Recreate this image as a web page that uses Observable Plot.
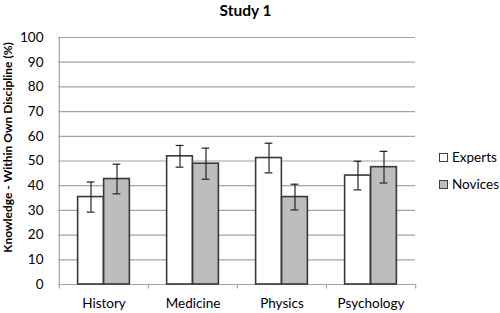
<!DOCTYPE html>
<html>
<head>
<meta charset="utf-8">
<script src="https://cdn.jsdelivr.net/npm/d3@7"></script>
<script src="https://cdn.jsdelivr.net/npm/@observablehq/plot@0.6"></script>
<style>
  body { margin: 0; background: #fff; font-family: Lato, "Open Sans", sans-serif; }
  #wrap { position: relative; width: 500px; height: 313px; overflow: hidden; }
  #title { height: 20px; line-height: 20px; font-weight: bold; font-size: 15.5px; text-align: center; padding-right: 9px; color: #000; }
  #chart svg { overflow: visible; }
  #legend { position: absolute; left: 439px; top: 149px; font-size: 13.5px; color: #000; }
  .item { display: flex; align-items: center; height: 16px; margin-bottom: 11px; }
  .sw { width: 7px; height: 7px; border: 1px solid #404040; margin-right: 4px; }
</style>
</head>
<body>
<div id="wrap">
  <div id="title">Study 1</div>
  <div id="chart"></div>
  <div id="legend"></div>
</div>
<script>
const categories = ["History", "Medicine", "Physics", "Psychology"];
const series = ["Experts", "Novices"];
const seriesFill = ["#ffffff", "#bdbdbd"];
const expertsMean = [35.4, 51.9, 51.2, 44.1];
const expertsErr = [6.1, 4.4, 6.0, 5.8];
const novicesMean = [42.7, 48.9, 35.4, 47.5];
const novicesErr = [6.0, 6.3, 5.2, 6.4];
const yTicks = [0, 10, 20, 30, 40, 50, 60, 70, 80, 90, 100];
const yLabel = "Knowledge - Within Own Discipline (%)";

const W = 500, H = 293, mL = 58, mR = 85, mT = 17, mB = 29;
const bw = (W - mL - mR) / categories.length;
const barW = 26;
const capHalf = 4;

const expData = categories.map((c, i) => ({cat: c, mean: expertsMean[i], lo: expertsMean[i] - expertsErr[i], hi: expertsMean[i] + expertsErr[i]}));
const novData = categories.map((c, i) => ({cat: c, mean: novicesMean[i], lo: novicesMean[i] - novicesErr[i], hi: novicesMean[i] + novicesErr[i]}));

const gridColor = "#a3a3a3";
const barStroke = "#383838";
const errColor = "#222";

function errMarks(data, dx) {
  return [
    Plot.ruleX(data, {x: "cat", y1: "lo", y2: "hi", dx, stroke: errColor, strokeWidth: 1.2}),
    Plot.tickY(data, {x: "cat", y: "hi", dx, insetLeft: bw / 2 - capHalf, insetRight: bw / 2 - capHalf, stroke: errColor, strokeWidth: 1.2}),
    Plot.tickY(data, {x: "cat", y: "lo", dx, insetLeft: bw / 2 - capHalf, insetRight: bw / 2 - capHalf, stroke: errColor, strokeWidth: 1.2})
  ];
}

const chart = Plot.plot({
  width: W, height: H,
  marginLeft: mL, marginRight: mR, marginTop: mT, marginBottom: mB,
  style: {fontFamily: "Lato, 'Open Sans', sans-serif", fontSize: "13px", color: "#000", background: "#fff"},
  x: {domain: categories, padding: 0, axis: null},
  y: {domain: [0, 100], axis: null},
  marks: [
    Plot.ruleY(yTicks, {y: d => d, stroke: gridColor, strokeWidth: 1.2}),
    Plot.ruleX([categories[0]], {x: d => d, dx: -bw / 2, y1: 0, y2: 100, stroke: gridColor, strokeWidth: 1.2}),
    Plot.ruleX(categories, {x: d => d, dx: -bw / 2, y1: 0, y2: -1.8, stroke: gridColor, strokeWidth: 1.2}),
    Plot.ruleX([categories[categories.length - 1]], {x: d => d, dx: bw / 2, y1: 0, y2: -1.8, stroke: gridColor, strokeWidth: 1.2}),
    Plot.barY(expData, {x: "cat", y: "mean", insetLeft: bw / 2 - barW, insetRight: bw / 2, fill: seriesFill[0], stroke: barStroke, strokeWidth: 1.6}),
    Plot.barY(novData, {x: "cat", y: "mean", insetLeft: bw / 2, insetRight: bw / 2 - barW, fill: seriesFill[1], stroke: barStroke, strokeWidth: 1.6}),
    ...errMarks(expData, -barW / 2),
    ...errMarks(novData, barW / 2),
    Plot.axisY(yTicks, {tickSize: 0, tickPadding: 15, label: null, fontSize: 13.5}),
    Plot.axisX({tickSize: 0, tickPadding: 14, label: null, fontSize: 13.5}),
    Plot.text([yLabel], {frameAnchor: "left", textAnchor: "middle", rotate: -90, dx: -50, dy: -13.5, fontWeight: "bold", fontSize: 12, fill: "#000"})
  ]
});
document.getElementById("chart").appendChild(chart);

const legend = document.getElementById("legend");
series.forEach((s, i) => {
  const item = document.createElement("div");
  item.className = "item";
  const sw = document.createElement("div");
  sw.className = "sw";
  sw.style.background = seriesFill[i];
  const t = document.createElement("span");
  t.textContent = s;
  item.appendChild(sw);
  item.appendChild(t);
  legend.appendChild(item);
});
</script>
</body>
</html>
